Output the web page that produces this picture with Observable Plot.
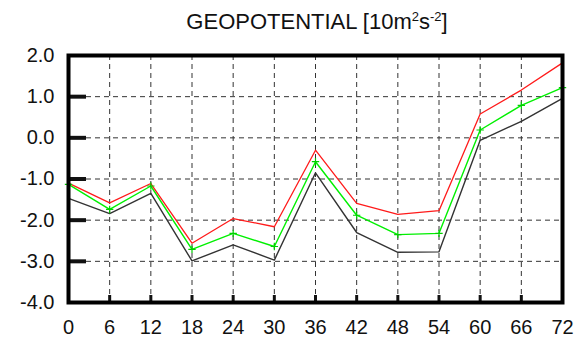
<!DOCTYPE html>
<html>
<head>
<meta charset="utf-8">
<script src="https://cdn.jsdelivr.net/npm/d3@7"></script>
<script src="https://cdn.jsdelivr.net/npm/@observablehq/plot@0.6"></script>
<style>
  html, body { margin: 0; padding: 0; background: #fff; }
  body { width: 576px; height: 337px; overflow: hidden; font-family: "Liberation Sans", Arial, Helvetica, sans-serif; }
  #title { height: 40px; box-sizing: border-box; padding: 11px 10px 0 68px; text-align: center; font-size: 22px; line-height: 1; color: #111; white-space: nowrap; }
  #title sup { font-size: 13px; line-height: 0; vertical-align: 0.6em; }
</style>
</head>
<body>
<div id="title">GEOPOTENTIAL [10m<sup>2</sup>s<sup>-2</sup>]</div>
<div id="chart"></div>
<script>
const hours = [0, 6, 12, 18, 24, 30, 36, 42, 48, 54, 60, 66, 72];
const redSeries   = [-1.10, -1.58, -1.11, -2.56, -1.96, -2.16, -0.30, -1.59, -1.86, -1.77, 0.58, 1.16, 1.82];
const greenSeries = [-1.13, -1.74, -1.17, -2.71, -2.32, -2.64, -0.58, -1.88, -2.35, -2.32, 0.19, 0.79, 1.22];
const blackSeries = [-1.47, -1.84, -1.35, -2.99, -2.60, -2.97, -0.85, -2.30, -2.78, -2.77, -0.06, 0.40, 0.96];
const xTicks = [0, 6, 12, 18, 24, 30, 36, 42, 48, 54, 60, 66, 72];
const yTicks = [-4, -3, -2, -1, 0, 1, 2];

const toRows = (vals) => hours.map((h, i) => ({h, v: vals[i]}));
const red = toRows(redSeries), green = toRows(greenSeries), black = toRows(blackSeries);
const innerX = xTicks.slice(1, -1), innerY = yTicks.slice(1, -1);
const fmt = d => d.toFixed(1);

const chart = Plot.plot({
  width: 576,
  height: 297,
  marginTop: 15,
  marginBottom: 35,
  marginLeft: 68,
  marginRight: 14,
  style: {fontFamily: '"Liberation Sans", Arial, Helvetica, sans-serif', fontSize: "20px", color: "#111", background: "#fff"},
  x: {domain: [0, 72]},
  y: {domain: [-4, 2]},
  marks: [
    Plot.gridX(innerX, {stroke: "#333", strokeOpacity: 1, strokeWidth: 1, strokeDasharray: "5,4"}),
    Plot.gridY(innerY, {stroke: "#333", strokeOpacity: 1, strokeWidth: 1, strokeDasharray: "5,4"}),
    Plot.line(black, {x: "h", y: "v", stroke: "#333", strokeWidth: 1.4}),
    Plot.line(green, {x: "h", y: "v", stroke: "#00f000", strokeWidth: 1.4}),
    Plot.line(red, {x: "h", y: "v", stroke: "#ff1a1a", strokeWidth: 1.3}),
    Plot.dot(green, {x: "h", y: "v", symbol: "plus", r: 2.5, stroke: "#00d000", strokeWidth: 1.2}),
    Plot.axisY(innerY, {tickSize: -18, strokeWidth: 4, tickFormat: () => "", label: null}),
    Plot.axisX(innerX, {tickSize: -7, strokeWidth: 3, tickFormat: () => "", label: null}),
    Plot.axisY(yTicks, {tickSize: 0, tickPadding: 14, tickFormat: fmt, fontSize: 20, label: null}),
    Plot.axisX(xTicks, {tickSize: 0, tickPadding: 17, tickFormat: d => String(d), fontSize: 20, label: null}),
    Plot.frame({stroke: "#000", strokeWidth: 4})
  ]
});
document.getElementById("chart").appendChild(chart);
</script>
</body>
</html>
